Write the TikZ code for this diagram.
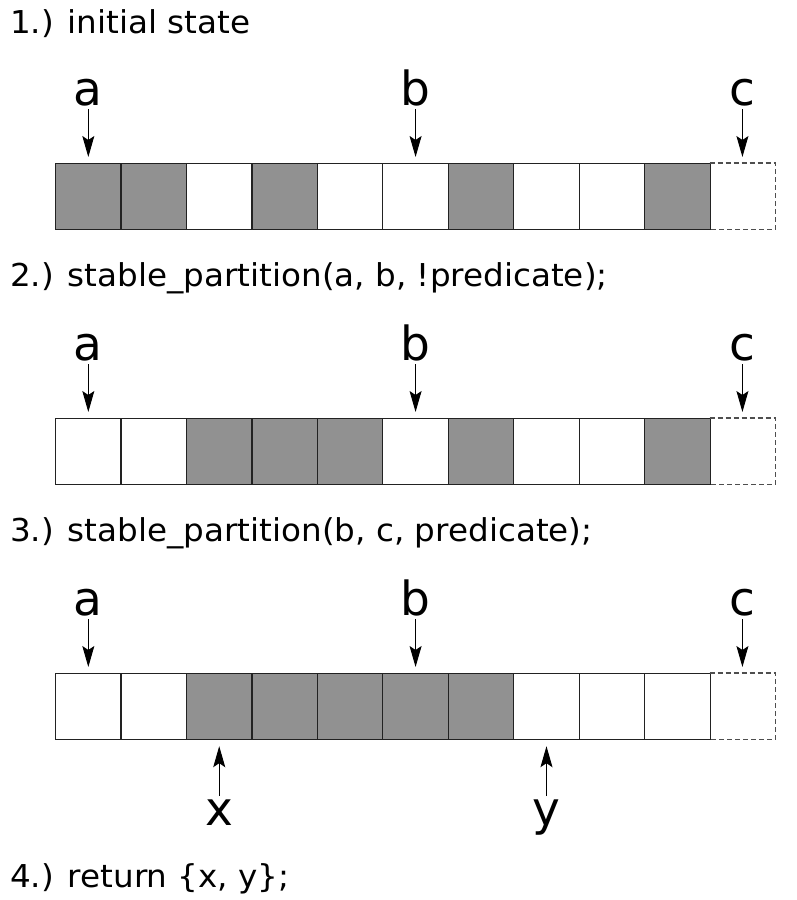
\documentclass[tikz,border=0pt]{standalone}
\usepackage{fontspec}
\setmainfont{DejaVu Sans}
\usetikzlibrary{arrows.meta}
\definecolor{fillgray}{HTML}{919191}
\definecolor{linegray}{HTML}{222222}
\tikzset{
  cell/.style={draw=linegray, line width=1.2pt, minimum width=65.45pt, minimum height=66pt, inner sep=0pt, anchor=north west},
  full/.style={cell, fill=fillgray},
  empty/.style={cell, fill=white},
  endcell/.style={inner sep=0pt, minimum width=65.45pt, minimum height=66pt, anchor=north west},
  title/.style={anchor=base west, inner sep=0pt, xscale=1.035, font=\fontsize{31.5}{36}\selectfont},
  ptr/.style={anchor=base, inner sep=0pt, text depth=0pt, font=\fontsize{47}{56}\selectfont},
  ret/.style={anchor=north, inner sep=0pt, text height=25.5pt, font=\fontsize{47}{56}\selectfont},
  arr/.style={draw=black, line width=1pt, -{Stealth[length=21pt,width=12pt,inset=4pt]}, shorten >=6pt, shorten <=4pt},
}
\begin{document}
\begin{tikzpicture}[x=1pt,y=-1pt]
\useasboundingbox (0,0) rectangle (797,900);
% titles
\node[title] (t1) at (10,33) {1.) initial state};
\node[title] (t2) at (10,286) {2.) stable\_partition(a, b, !predicate);};
\node[title] (t3) at (10,541) {3.) stable\_partition(b, c, predicate);};
\node[title] (t4) at (10,887) {4.) return \{x, y\};};
% rows
\foreach \r/\y/\pat in {1/163/{1,1,0,1,0,0,1,0,0,1}, 2/418/{0,0,1,1,1,0,1,0,0,1}, 3/673/{0,0,1,1,1,1,1,0,0,0}}{
  \foreach \v [count=\i from 0] in \pat {
    \ifnum\v=1
      \node[full] (r\r c\i) at ({55+65.45*\i},\y) {};
    \else
      \node[empty] (r\r c\i) at ({55+65.45*\i},\y) {};
    \fi
  }
  \node[endcell] (r\r c10) at ({55+65.45*10},\y) {};
  \draw[draw=linegray!80, line width=1.2pt, dashed, dash pattern=on 5pt off 3pt] (r\r c10.north west) -- (r\r c10.north east) -- (r\r c10.south east) -- (r\r c10.south west);
  \node[ptr] (a\r) at (r\r c0.north |- 0,{\y-58}) {a};
  \node[ptr] (b\r) at (r\r c5.north |- 0,{\y-58}) {b};
  \node[ptr] (c\r) at (r\r c10.north |- 0,{\y-58}) {c};
  \draw[arr] (a\r.south) -- (r\r c0.north);
  \draw[arr] (b\r.south) -- (r\r c5.north);
  \draw[arr] (c\r.south) -- (r\r c10.north);
}
\node[ret] (x) at (r3c2.south |- 0,800) {x};
\node[ret] (y) at (r3c7.south |- 0,800) {y};
\draw[arr] (x.north) -- (r3c2.south);
\draw[arr] (y.north) -- (r3c7.south);
\end{tikzpicture}
\end{document}
